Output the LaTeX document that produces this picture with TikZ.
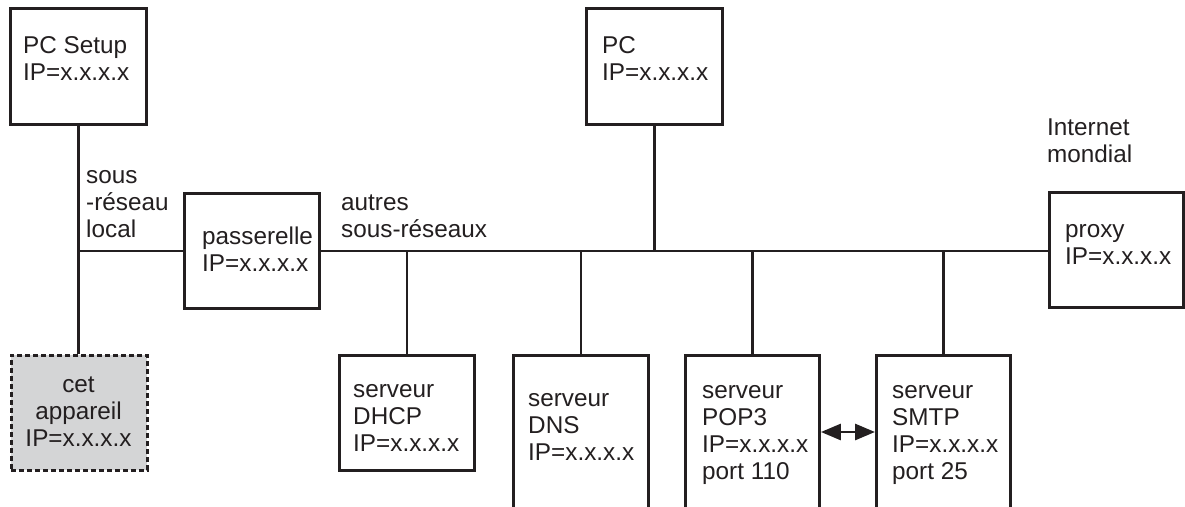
\documentclass[tikz,border=0pt]{standalone}
\usepackage{fontspec}
\setmainfont{Liberation Sans}
\usetikzlibrary{arrows.meta}
\definecolor{ink}{HTML}{231F20}
\definecolor{devfill}{HTML}{D4D5D6}
\begin{document}
\begin{tikzpicture}[x=1pt,y=-1pt,
  box/.style={draw=ink,line width=2.9pt,rectangle,inner sep=0pt,anchor=north west},
  devbox/.style={box,fill=devfill,dash pattern=on 5pt off 3pt},
  txt/.style={anchor=base west,align=left,inner sep=0pt,text=ink,font=\fontsize{24.3}{27}\selectfont},
  ctxt/.style={txt,anchor=base,align=center},
  wire/.style={draw=ink,line width=2.9pt},
  bothtips/.style={wire,{Triangle[length=20pt,width=16pt]}-{Triangle[length=20pt,width=16pt]}}]
\useasboundingbox (0,0) rectangle (1185,506);
\clip (0,0) rectangle (1185,506);
% boxes
\node[box,minimum width=136pt,minimum height=116pt] (setup) at (9,7) {};
\node[devbox,minimum width=136pt,minimum height=115pt] (dev) at (10,354) {};
\node[box,minimum width=135pt,minimum height=115pt] (pass) at (183,192) {};
\node[box,minimum width=136pt,minimum height=116pt] (pc) at (585,7) {};
\node[box,minimum width=134pt,minimum height=115pt] (proxy) at (1048,191) {};
\node[box,minimum width=135pt,minimum height=115pt] (dhcp) at (338,354) {};
\node[box,minimum width=135pt,minimum height=170pt] (dns) at (512,354) {};
\node[box,minimum width=134pt,minimum height=170pt] (pop) at (684,354) {};
\node[box,minimum width=134pt,minimum height=170pt] (smtp) at (875,354) {};
% texts (anchored at the baseline of the last line)
\node[txt] (setupT) at (23,80) {PC Setup\\IP=x.x.x.x};
\node[ctxt] (devT) at (78.5,446) {cet\\appareil\\IP=x.x.x.x};
\node[txt] (passT) at (202,271) {passerelle\\IP=x.x.x.x};
\node[txt] (pcT) at (602,80) {PC\\IP=x.x.x.x};
\node[txt] (proxyT) at (1065,264) {proxy\\IP=x.x.x.x};
\node[txt] (dhcpT) at (353,451) {serveur\\DHCP\\IP=x.x.x.x};
\node[txt] (dnsT) at (528,460) {serveur\\DNS\\IP=x.x.x.x};
\node[txt] (popT) at (702,479) {serveur\\POP3\\IP=x.x.x.x\\port 110};
\node[txt] (smtpT) at (892,479) {serveur\\SMTP\\IP=x.x.x.x\\port 25};
\node[txt] (localT) at (86,237) {sous\\-réseau\\local};
\node[txt] (autresT) at (341,237) {autres\\sous-réseaux};
\node[txt] (inetT) at (1047,162) {Internet\\mondial};
% connectors
\coordinate (arrowy) at (0,432);
\draw[wire] (setup.south) -- (setup.south |- dev.north);
\draw[wire] (setup.south |- pass.west) -- (pass.west);
\draw[wire] (pass.east) -- (proxy.west |- pass.east);
\draw[wire] (pc.south) -- (pc.south |- pass.east);
\draw[wire] (dhcp.north |- pass.east) -- (dhcp.north);
\draw[wire] (dns.north |- pass.east) -- (dns.north);
\draw[wire] (pop.north |- pass.east) -- (pop.north);
\draw[wire] (smtp.north |- pass.east) -- (smtp.north);
\draw[bothtips] (pop.east |- arrowy) -- (smtp.west |- arrowy);
\end{tikzpicture}
\end{document}
